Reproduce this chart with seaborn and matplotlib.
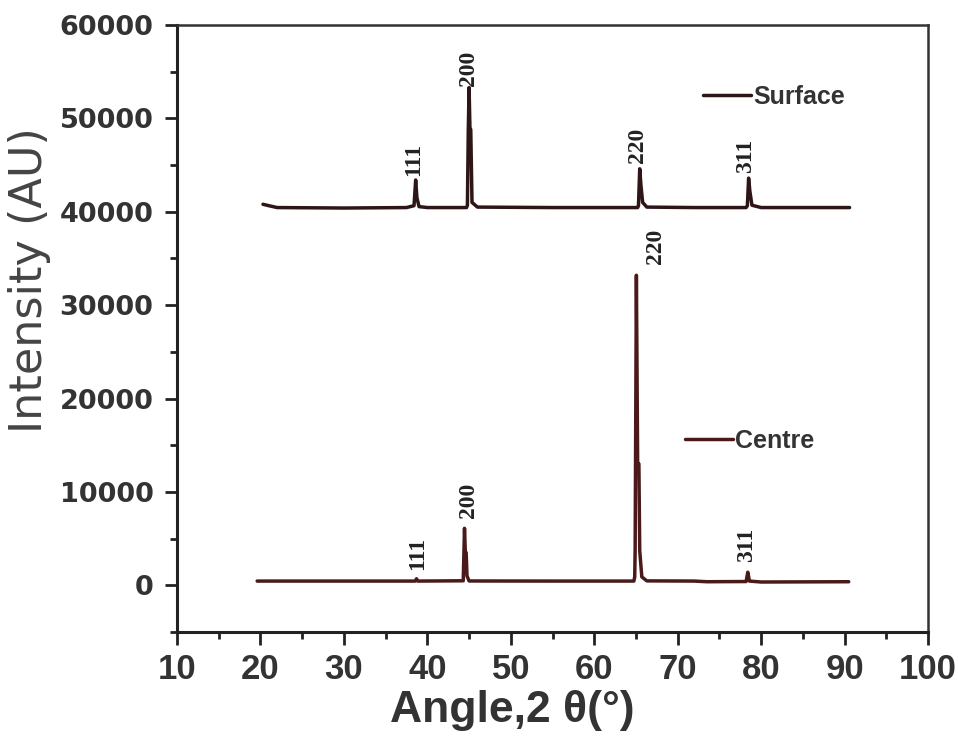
import pandas as pd
import matplotlib
matplotlib.use("Agg")
import matplotlib.pyplot as plt
import seaborn as sns

# ---- data ----
surface_angle = [20.3, 21.0, 22.0, 30.0, 37.5, 38.4, 38.6, 38.75, 39.0, 40.0,
                 44.7, 44.8, 44.9, 45.0, 45.1, 45.2, 45.35, 46.0, 55.0,
                 65.2, 65.3, 65.45, 65.6, 65.8, 66.3, 72.0,
                 78.2, 78.35, 78.5, 78.65, 78.9, 80.0, 90.6]
surface_intensity = [40800, 40650, 40450, 40400, 40450, 40650, 43400, 41500, 40550, 40450,
                     40450, 40700, 48500, 53300, 49000, 48800, 41000, 40500, 40450,
                     40450, 40650, 44600, 42800, 41000, 40500, 40450,
                     40450, 40650, 43600, 42200, 40700, 40450, 40450]

centre_angle = [19.6, 30.0, 38.55, 38.7, 38.85, 44.3, 44.45, 44.55, 44.65, 44.75, 45.0,
                55.0, 64.75, 64.85, 64.9, 65.05, 65.2, 65.35, 65.45, 65.7, 66.3, 72.0, 73.5,
                78.2, 78.4, 78.6, 80.0, 90.5]
centre_intensity = [450, 450, 450, 700, 450, 480, 6100, 3500, 3500, 1000, 460,
                    450, 450, 900, 3700, 33200, 13100, 13000, 3700, 900, 470, 450, 380,
                    400, 1400, 450, 350, 380]

# peak indexing (hkl) labels: position and text bottom
surface_peaks = ["111", "200", "220", "311"]
surface_peak_x = [38.4, 44.9, 65.2, 78.1]
surface_peak_y = [43800, 53500, 45200, 44100]
centre_peaks = ["111", "200", "220", "311"]
centre_peak_x = [38.8, 44.9, 67.4, 78.3]
centre_peak_y = [1600, 7200, 34400, 2500]

df = pd.concat([
    pd.DataFrame({"angle": surface_angle, "intensity": surface_intensity, "sample": "Surface"}),
    pd.DataFrame({"angle": centre_angle, "intensity": centre_intensity, "sample": "Centre"}),
])

# ---- figure ----
sns.set_theme(style="ticks")
plt.rcParams["font.family"] = ["Liberation Sans", "DejaVu Sans"]

fig = plt.figure(figsize=(9.58, 7.42), dpi=100)
ax = fig.add_axes([0.1848, 0.1483, 0.7839, 0.8180])

line_colors = {"Surface": "#2e1616", "Centre": "#4a1a1a"}
sns.lineplot(data=df, x="angle", y="intensity", hue="sample", palette=line_colors,
             sort=False, estimator=None, linewidth=2.5, ax=ax, legend=False)

# hkl labels
for lab, px, py in zip(surface_peaks, surface_peak_x, surface_peak_y):
    ax.text(px, py, lab, rotation=90, ha="center", va="bottom",
            family=["Liberation Serif", "DejaVu Serif"], fontweight="bold",
            fontsize=17, color="#222222")
for lab, px, py in zip(centre_peaks, centre_peak_x, centre_peak_y):
    ax.text(px, py, lab, rotation=90, ha="center", va="bottom",
            family=["Liberation Serif", "DejaVu Serif"], fontweight="bold",
            fontsize=17, color="#222222")

# separate legends for each curve
lines = ax.get_lines()
leg_font = {"family": ["Liberation Sans"], "weight": "bold", "size": 18}
leg1 = ax.legend([lines[0]], ["Surface"], loc="center left", bbox_to_anchor=(0.684, 0.881),
                 frameon=False, handlelength=1.9, handletextpad=0.1, borderpad=0, prop=leg_font)
for t in leg1.get_texts():
    t.set_color("#333333")
ax.add_artist(leg1)
leg2 = ax.legend([lines[1]], ["Centre"], loc="center left", bbox_to_anchor=(0.66, 0.315),
                 frameon=False, handlelength=1.9, handletextpad=0.1, borderpad=0, prop=leg_font)
for t in leg2.get_texts():
    t.set_color("#333333")

# axes
ax.set_xlim(10, 100)
ax.set_ylim(-5000, 60000)
ax.set_xticks(range(10, 101, 10))
ax.set_xticks(range(15, 100, 10), minor=True)
ax.set_yticks(range(0, 60001, 10000))
ax.set_yticks(range(-5000, 60001, 10000), minor=True)

ax.tick_params(axis="both", which="major", direction="out", length=9, width=2, color="#222222")
ax.tick_params(axis="both", which="minor", direction="out", length=5, width=2, color="#222222")
ax.tick_params(axis="y", pad=8)
ax.tick_params(axis="x", pad=6)

for lab in ax.get_yticklabels():
    lab.set_family(["DejaVu Sans"])
    lab.set_fontweight("bold")
    lab.set_fontsize(19.5)
    lab.set_color("#333333")
for lab in ax.get_xticklabels():
    lab.set_family(["Liberation Sans"])
    lab.set_fontweight("bold")
    lab.set_fontsize(25)
    lab.set_color("#333333")

ax.set_xlabel("Angle,2 θ(°)", fontsize=32, fontweight="bold", color="#333333",
              family=["Liberation Sans", "DejaVu Sans"])
ax.xaxis.set_label_coords(0.446, -0.095)
ax.set_ylabel("Intensity (AU)", fontsize=32, color="#444444",
              family=["DejaVu Sans"])
ax.yaxis.set_label_coords(-0.168, 0.58)

for side in ["left", "bottom"]:
    ax.spines[side].set_linewidth(2.2)
    ax.spines[side].set_color("#222222")
for side in ["top", "right"]:
    ax.spines[side].set_linewidth(1.8)
    ax.spines[side].set_color("#333333")

plt.savefig("out.png", dpi=100)
